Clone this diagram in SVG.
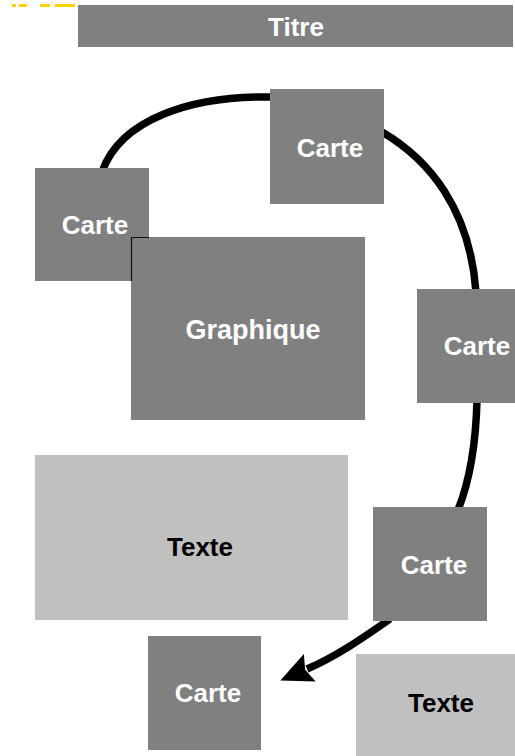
<svg xmlns="http://www.w3.org/2000/svg" width="515" height="756" viewBox="0 0 515 756">
  <style>
    .dark { fill: #808080; }
    .light { fill: #c0c0c0; }
    .lbl { font-family: "Liberation Sans", Arial, sans-serif; font-weight: bold; font-size: 26px; text-anchor: middle; }
    .w { fill: #ffffff; }
    .b { fill: #000000; }
    .flow { fill: none; stroke: #000000; stroke-width: 7.5; stroke-linecap: butt; }
  </style>
  <defs>
    <marker id="head" markerUnits="userSpaceOnUse" markerWidth="32" markerHeight="30" viewBox="0 0 32 30" refX="3" refY="15" orient="auto">
      <path d="M0,0 L32,15 L0,30 L5,15 z" fill="#000000"/>
    </marker>
  </defs>
  <rect width="515" height="756" fill="#ffffff"/>

  <!-- clipped yellow strokes at the top edge -->
  <g id="top-strip" fill="#ffd200">
    <rect x="12" y="4" width="4" height="3"/>
    <rect x="19" y="4" width="8" height="3"/>
    <rect x="40" y="4" width="10" height="3"/>
    <rect x="55" y="4" width="20" height="3"/>
  </g>

  <!-- connectors (run behind the cards) -->
  <g id="connectors">
    <path class="flow" d="M 102,172 C 120,120 190,95 274,97"/>
    <path class="flow" d="M 382,132 C 430,160 470,210 476,292"/>
    <path class="flow" d="M 477,400 C 476,440 470,480 458,510"/>
    <path class="flow" d="M 390,619 C 360,640 335,657 307,669" marker-end="url(#head)"/>
  </g>

  <g id="titre">
    <rect class="dark" x="78" y="5" width="435" height="42"/>
    <text class="lbl w" x="296" y="36">Titre</text>
  </g>

  <g id="carte-haut">
    <rect class="dark" x="270" y="89" width="114" height="115"/>
    <text class="lbl w" x="330" y="157">Carte</text>
  </g>

  <g id="carte-gauche">
    <rect class="dark" x="35" y="168" width="114" height="113"/>
    <text class="lbl w" x="95" y="234">Carte</text>
  </g>

  <g id="graphique">
    <rect class="dark" x="131" y="237" width="234" height="183"/>
    <path d="M 131.5,281 V 237.5 H 149" fill="none" stroke="#111111" stroke-width="1.2"/>
    <text class="lbl w" x="253" y="339" style="font-size:27px">Graphique</text>
  </g>

  <g id="carte-droite">
    <rect class="dark" x="417" y="289" width="98" height="114"/>
    <text class="lbl w" x="477" y="355">Carte</text>
  </g>

  <g id="texte-grand">
    <rect class="light" x="35" y="455" width="313" height="165"/>
    <text class="lbl b" x="200" y="556">Texte</text>
  </g>

  <g id="carte-bas-droite">
    <rect class="dark" x="373" y="507" width="114" height="114"/>
    <text class="lbl w" x="434" y="574">Carte</text>
  </g>

  <g id="carte-bas">
    <rect class="dark" x="148" y="636" width="113" height="114"/>
    <text class="lbl w" x="208" y="702">Carte</text>
  </g>

  <g id="texte-petit">
    <rect class="light" x="356" y="654" width="159" height="102"/>
    <text class="lbl b" x="441" y="712">Texte</text>
  </g>
</svg>
